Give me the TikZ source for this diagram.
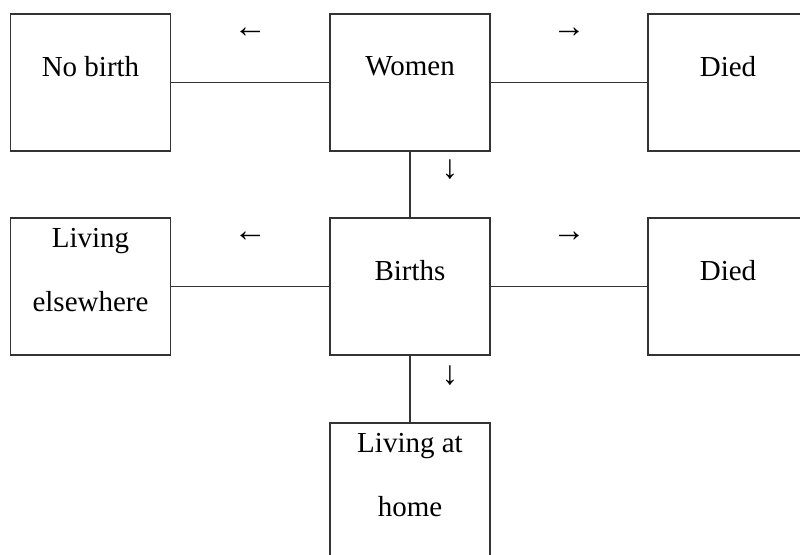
\documentclass[tikz,border=0pt]{standalone}
\usepackage{fontspec}
\setmainfont{Liberation Serif}
\begin{document}
\begin{tikzpicture}[x=0.75pt,y=-0.75pt]
	% Styles
	\tikzstyle{lien}=[-,line width=1.1pt,draw=black!80]
	\tikzstyle{boite}=[draw=black!80,line width=1.1pt,minimum width=120pt,minimum height=102.75pt,inner sep=0pt]
	\tikzstyle{texte}=[align=center,font=\fontsize{21.75}{48}\selectfont,inner sep=0pt]
	\tikzstyle{sens}=[font=\fontsize{25}{26}\selectfont,inner sep=0pt]
	% Dimensions
	\def\ColonneA{90.5}
	\def\ColonneB{410}
	\def\ColonneC{728}
	\def\NiveauA{82.5}
	\def\NiveauB{286.5}
	\def\NiveauC{491.5}
	\def\Decalage{12pt}
	\useasboundingbox (0,0) rectangle (800,554);
	% Boites
	\node[boite] (N) at (\ColonneA,\NiveauA) {};
	\node[boite] (W) at (\ColonneB,\NiveauA) {};
	\node[boite] (D) at (\ColonneC,\NiveauA) {};
	\node[boite] (E) at (\ColonneA,\NiveauB) {};
	\node[boite] (B) at (\ColonneB,\NiveauB) {};
	\node[boite] (Db) at (\ColonneC,\NiveauB) {};
	\node[boite] (H) at (\ColonneB,\NiveauC) {};
	% Textes
	\node[texte] (tN) at ([yshift=\Decalage]N.center) {No birth};
	\node[texte] (tW) at ([yshift=\Decalage]W.center) {Women};
	\node[texte] (tD) at ([yshift=\Decalage]D.center) {Died};
	\node[texte] (tE) at ([yshift=\Decalage]E.center) {Living\\elsewhere};
	\node[texte] (tB) at ([yshift=\Decalage]B.center) {Births};
	\node[texte] (tDb) at ([yshift=\Decalage]Db.center) {Died};
	\node[texte] (tH) at ([yshift=\Decalage]H.center) {Living at\\home};
	% Liens
	\draw[lien] (N.east)--(W.west) node[midway, sens, yshift=37pt]{←};
	\draw[lien] (W.east)--(D.west) node[midway, sens, yshift=37pt]{→};
	\draw[lien] (W.south)--(B.north) node[midway, sens, xshift=30pt, yshift=11pt]{↓};
	\draw[lien] (E.east)--(B.west) node[midway, sens, yshift=37pt]{←};
	\draw[lien] (B.east)--(Db.west) node[midway, sens, yshift=37pt]{→};
	\draw[lien] (B.south)--(H.north) node[midway, sens, xshift=30pt, yshift=10pt]{↓};
\end{tikzpicture}
\end{document}
